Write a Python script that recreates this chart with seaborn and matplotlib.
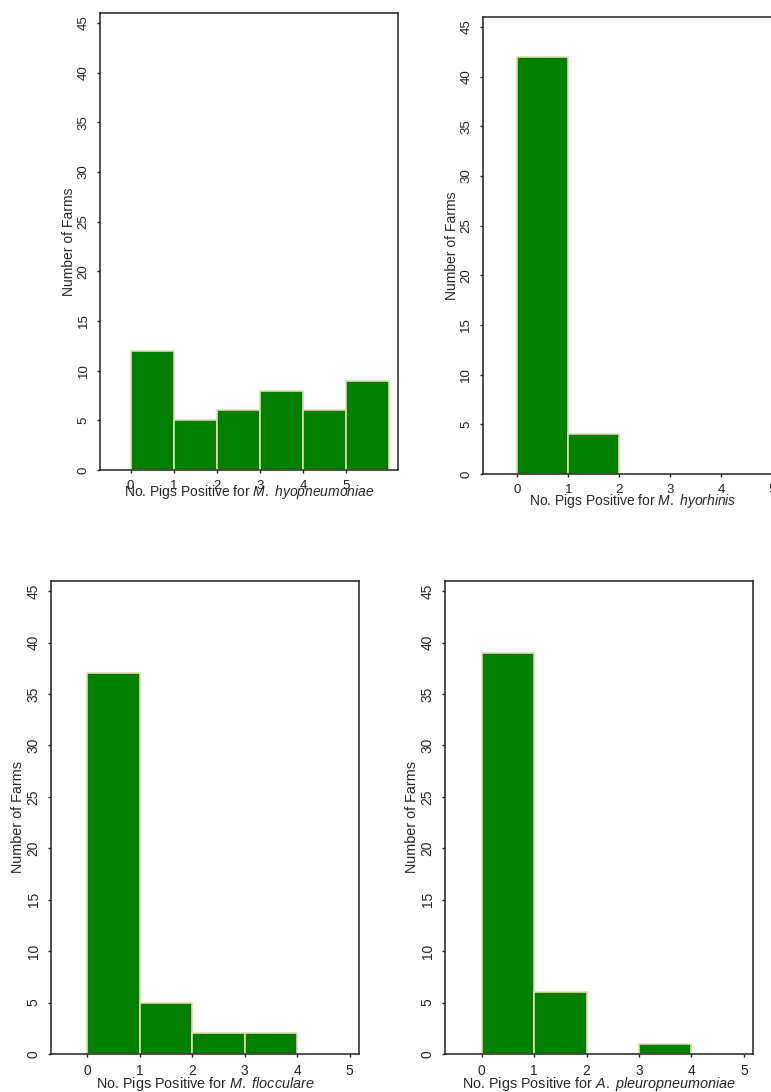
import seaborn as sns
import matplotlib.pyplot as plt

sns.set_style("ticks")
plt.rcParams["font.family"] = ["Liberation Sans", "DejaVu Sans"]
plt.rcParams["mathtext.fontset"] = "custom"
plt.rcParams["mathtext.rm"] = "Liberation Sans"
plt.rcParams["mathtext.it"] = "Liberation Sans:italic"

# number of positive pigs per farm (bin start) and number of farms
pigs_positive = [0, 1, 2, 3, 4, 5]
hyopneumoniae = [12, 5, 6, 8, 6, 9]
hyorhinis = [42, 4, 0, 0, 0, 0]
flocculare = [37, 5, 2, 2, 0, 0]
pleuropneumoniae = [39, 6, 0, 1, 0, 0]

y_ticks = list(range(0, 50, 5))
x_ticks = [0, 1, 2, 3, 4, 5]

panels = [
    # counts, organism, axes rect, xlim, bin edges, font size, xlabel pad
    (hyopneumoniae, "M.\\ hyopneumoniae", [0.1297, 0.5696, 0.3865, 0.4185], (-0.71, 6.2), [0, 1, 2, 3, 4, 5, 6], 10, -7),
    (hyorhinis, "M.\\ hyorhinis", [0.626, 0.5659, 0.3888, 0.4185], (-0.68, 5.2), [0, 1, 2], 10, -3.5),
    (flocculare, "M.\\ flocculare", [0.0661, 0.0348, 0.3995, 0.4332], (-0.69, 5.18), [0, 1, 2, 3, 4], 10.4, -2.5),
    (pleuropneumoniae, "A.\\ pleuropneumoniae", [0.5772, 0.0348, 0.3999, 0.4332], (-0.70, 5.18), [0, 1, 2, 3, 4], 10.4, -2.5),
]

fig = plt.figure(figsize=(7.71, 10.92), dpi=100)

for counts, organism, rect, xlim, edges, fs, xpad in panels:
    ax = fig.add_axes(rect)
    sns.histplot(x=pigs_positive, weights=counts, bins=edges, ax=ax,
                 color="#007f00", alpha=1, edgecolor="#e3dab4", linewidth=1.2)
    ax.set_xlim(*xlim)
    ax.set_ylim(0, 46)
    ax.set_xticks(x_ticks)
    ax.set_yticks(y_ticks)
    for s in ax.spines.values():
        s.set_visible(True)
        s.set_color("#222222")
        s.set_linewidth(1.1)
    ax.tick_params(axis="both", direction="out", length=2.5, width=1,
                   labelsize=fs - 0.5, colors="#222222")
    ax.tick_params(axis="x", pad=5)
    ax.tick_params(axis="y", pad=5)
    plt.setp(ax.get_yticklabels(), rotation=90, va="center")
    ax.set_ylabel("Number of Farms", fontsize=fs, labelpad=1)
    ax.set_xlabel("No. Pigs Positive for $\\it{" + organism + "}$", fontsize=fs, labelpad=xpad)

fig.savefig("out.png", dpi=100)
